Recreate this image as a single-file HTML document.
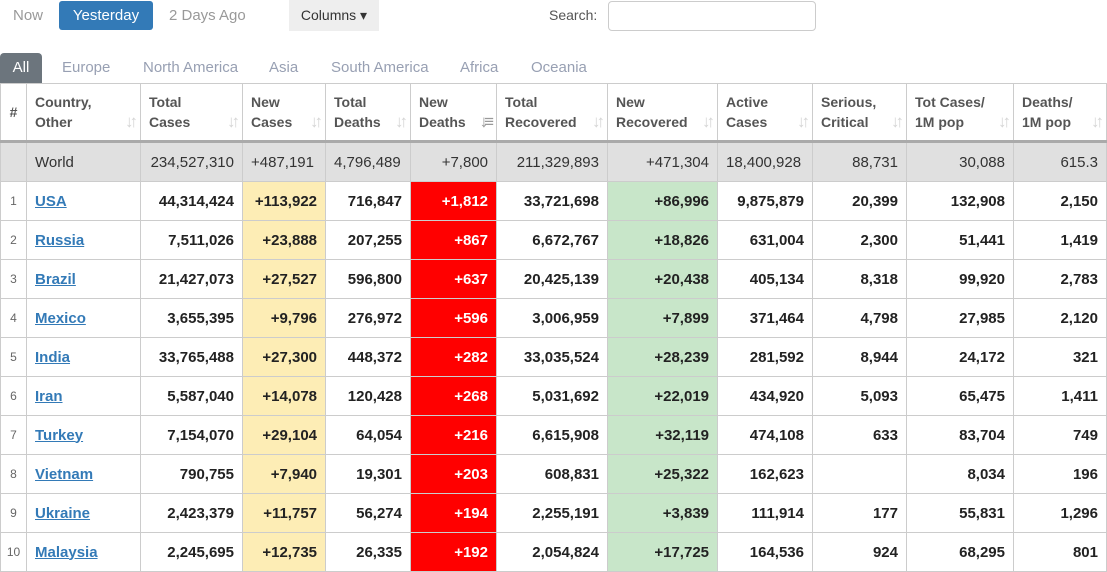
<!DOCTYPE html>
<html><head><meta charset="utf-8"><style>
body{margin:0;width:1107px;height:572px;overflow:hidden;background:#fff;font-family:"Liberation Sans",Arial,sans-serif;color:#222;position:relative}
.a{position:absolute}
.top{top:1px;height:29px;line-height:29px;font-size:15px;color:#999}
table{position:absolute;left:0;top:83px;border-collapse:collapse;table-layout:fixed;width:1106px}
td,th{border:1px solid #ccc;padding:0 8px;font-size:15px;white-space:nowrap;overflow:hidden}
th{height:56px;text-align:left;font-weight:bold;color:#555;font-size:14px;line-height:20px;vertical-align:middle;position:relative;border-bottom:3px solid #aaa}
th i{position:absolute;right:6px;bottom:8px;color:#d5d5d5;font-style:normal;font-size:17px;font-weight:bold;letter-spacing:-4px}
td{height:38px;text-align:right;font-weight:bold;color:#222}
tr.w td{background:#e0e0e0;font-weight:normal;color:#333}
td.n{text-align:center;font-weight:normal;color:#666;font-size:12px;padding:0}
td.c{text-align:left}
td.c u{color:#337ab7}
.y{background:#fdedb5}
.r{background:#ff0000;color:#fff!important}
.g{background:#c8e6c9}
</style></head><body>
<div class="a top" style="left:13px">Now</div>
<div class="a top" style="left:59px;width:94px;background:#337ab7;color:#fff;border-radius:3px;text-align:center">Yesterday</div>
<div class="a top" style="left:169px">2 Days Ago</div>
<div class="a top" style="left:289px;width:90px;top:0;height:31px;line-height:31px;background:#eee;color:#333;text-align:center;font-size:14px">Columns ▾</div>
<div class="a top" style="left:549px;color:#555;font-size:14px">Search:</div>
<div class="a" style="left:608px;top:1px;width:206px;height:28px;border:1px solid #ccc;border-radius:4px"></div>
<div class="a" style="left:0;top:53px;width:42px;height:30px;background:#6c757d;border-radius:4px 4px 0 0;color:#fff;font-size:15px;line-height:30px;text-align:center">All</div>
<div class="a" style="top:58px;font-size:15px;color:#98a0b3;line-height:20px;left:0;width:700px">
<span class="a" style="left:62px">Europe</span><span class="a" style="left:143px">North America</span><span class="a" style="left:269px">Asia</span><span class="a" style="left:331px">South America</span><span class="a" style="left:460px">Africa</span><span class="a" style="left:531px">Oceania</span></div>
<table>
<colgroup><col style="width:26px"><col style="width:114px"><col style="width:102px"><col style="width:83px"><col style="width:85px"><col style="width:86px"><col style="width:111px"><col style="width:110px"><col style="width:95px"><col style="width:94px"><col style="width:107px"><col style="width:93px"></colgroup>
<tr><th style="padding:0;text-align:center">#</th><th>Country,<br>Other<i>↓↑</i></th><th>Total<br>Cases<i>↓↑</i></th><th>New<br>Cases<i>↓↑</i></th><th>Total<br>Deaths<i>↓↑</i></th><th>New<br>Deaths<i style="color:#999">↓≡</i></th><th>Total<br>Recovered<i>↓↑</i></th><th>New<br>Recovered<i>↓↑</i></th><th>Active<br>Cases<i>↓↑</i></th><th>Serious,<br>Critical<i>↓↑</i></th><th>Tot Cases/<br>1M pop<i>↓↑</i></th><th>Deaths/<br>1M pop<i>↓↑</i></th></tr>
<tr class="w"><td></td><td class="c">World</td><td>234,527,310</td><td style="text-align:left">+487,191</td><td style="text-align:left">4,796,489</td><td>+7,800</td><td>211,329,893</td><td>+471,304</td><td style="text-align:left">18,400,928</td><td>88,731</td><td>30,088</td><td>615.3</td></tr>
<tr><td class="n">1</td><td class="c"><u>USA</u></td><td>44,314,424</td><td class="y">+113,922</td><td>716,847</td><td class="r">+1,812</td><td>33,721,698</td><td class="g">+86,996</td><td>9,875,879</td><td>20,399</td><td>132,908</td><td>2,150</td></tr>
<tr><td class="n">2</td><td class="c"><u>Russia</u></td><td>7,511,026</td><td class="y">+23,888</td><td>207,255</td><td class="r">+867</td><td>6,672,767</td><td class="g">+18,826</td><td>631,004</td><td>2,300</td><td>51,441</td><td>1,419</td></tr>
<tr><td class="n">3</td><td class="c"><u>Brazil</u></td><td>21,427,073</td><td class="y">+27,527</td><td>596,800</td><td class="r">+637</td><td>20,425,139</td><td class="g">+20,438</td><td>405,134</td><td>8,318</td><td>99,920</td><td>2,783</td></tr>
<tr><td class="n">4</td><td class="c"><u>Mexico</u></td><td>3,655,395</td><td class="y">+9,796</td><td>276,972</td><td class="r">+596</td><td>3,006,959</td><td class="g">+7,899</td><td>371,464</td><td>4,798</td><td>27,985</td><td>2,120</td></tr>
<tr><td class="n">5</td><td class="c"><u>India</u></td><td>33,765,488</td><td class="y">+27,300</td><td>448,372</td><td class="r">+282</td><td>33,035,524</td><td class="g">+28,239</td><td>281,592</td><td>8,944</td><td>24,172</td><td>321</td></tr>
<tr><td class="n">6</td><td class="c"><u>Iran</u></td><td>5,587,040</td><td class="y">+14,078</td><td>120,428</td><td class="r">+268</td><td>5,031,692</td><td class="g">+22,019</td><td>434,920</td><td>5,093</td><td>65,475</td><td>1,411</td></tr>
<tr><td class="n">7</td><td class="c"><u>Turkey</u></td><td>7,154,070</td><td class="y">+29,104</td><td>64,054</td><td class="r">+216</td><td>6,615,908</td><td class="g">+32,119</td><td>474,108</td><td>633</td><td>83,704</td><td>749</td></tr>
<tr><td class="n">8</td><td class="c"><u>Vietnam</u></td><td>790,755</td><td class="y">+7,940</td><td>19,301</td><td class="r">+203</td><td>608,831</td><td class="g">+25,322</td><td>162,623</td><td></td><td>8,034</td><td>196</td></tr>
<tr><td class="n">9</td><td class="c"><u>Ukraine</u></td><td>2,423,379</td><td class="y">+11,757</td><td>56,274</td><td class="r">+194</td><td>2,255,191</td><td class="g">+3,839</td><td>111,914</td><td>177</td><td>55,831</td><td>1,296</td></tr>
<tr><td class="n">10</td><td class="c"><u>Malaysia</u></td><td>2,245,695</td><td class="y">+12,735</td><td>26,335</td><td class="r">+192</td><td>2,054,824</td><td class="g">+17,725</td><td>164,536</td><td>924</td><td>68,295</td><td>801</td></tr>
</table>
</body></html>
